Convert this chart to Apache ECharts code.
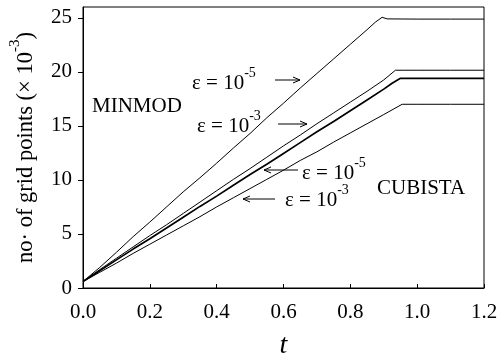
<!DOCTYPE html>
<html><head><meta charset="utf-8">
<script src="https://cdn.jsdelivr.net/npm/echarts@6/dist/echarts.min.js"></script>
<style>html,body{margin:0;padding:0;background:#fff}#c{width:497px;height:356px}</style>
</head><body><div id="c"></div>
<script>
const FONT = "'Liberation Serif','Times New Roman',serif";

// x ticks / y ticks
const xTickValues = [0, 0.2, 0.4, 0.6, 0.8, 1.0, 1.2];
const yTickValues = [0, 5, 10, 15, 20, 25];

// MINMOD, eps = 1e-5
const tMinmod5 = [0,0.05,0.1,0.15,0.2,0.25,0.3,0.35,0.4,0.45,0.5,0.55,0.6,0.65,0.7,0.75,0.8,0.85,0.875,0.895,0.91,1.0,1.1,1.2];
const vMinmod5 = [0.6,1.9,3.3,4.75,6.1,7.5,8.9,10.2,11.55,12.95,14.3,15.75,17.1,18.5,19.85,21.2,22.55,23.9,24.6,25.05,24.9,24.88,24.88,24.88];
// MINMOD, eps = 1e-3
const tMinmod3 = [0,0.05,0.1,0.15,0.2,0.25,0.3,0.35,0.4,0.45,0.5,0.55,0.6,0.65,0.7,0.75,0.8,0.85,0.9,0.935,0.96,1.0,1.1,1.2];
const vMinmod3 = [0.6,1.7,2.75,3.8,4.85,5.85,6.9,7.95,9.0,10.05,11.05,12.1,13.15,14.15,15.2,16.2,17.2,18.2,19.25,20.15,20.15,20.15,20.15,20.15];
// CUBISTA, eps = 1e-5 (thick)
const tCubista5 = [0,0.05,0.1,0.15,0.2,0.25,0.3,0.35,0.4,0.45,0.5,0.55,0.6,0.65,0.7,0.75,0.8,0.85,0.9,0.925,0.95,1.0,1.1,1.2];
const vCubista5 = [0.6,1.6,2.6,3.6,4.55,5.55,6.55,7.55,8.5,9.5,10.5,11.45,12.45,13.45,14.45,15.4,16.4,17.4,18.4,18.95,19.4,19.4,19.4,19.4];
// CUBISTA, eps = 1e-3
const tCubista3 = [0,0.05,0.1,0.15,0.2,0.25,0.3,0.35,0.4,0.45,0.5,0.55,0.6,0.65,0.7,0.75,0.8,0.85,0.9,0.955,1.0,1.1,1.2];
const vCubista3 = [0.6,1.45,2.3,3.2,4.05,4.9,5.75,6.6,7.5,8.35,9.2,10.05,10.9,11.8,12.6,13.5,14.35,15.2,16.05,17.0,17.0,17.0,17.0];

function pairs(t, v) { return t.map((x, i) => [x, v[i]]); }

const rich = {
  n: { fontFamily: FONT, fontSize: 21, lineHeight: 28, verticalAlign: 'bottom', color: '#000' },
  s: { fontFamily: FONT, fontSize: 14, lineHeight: 10, verticalAlign: 'top', color: '#000' }
};
const richName = {
  n: { fontFamily: FONT, fontSize: 22.5, lineHeight: 30, verticalAlign: 'bottom', color: '#000' },
  s: { fontFamily: FONT, fontSize: 15, lineHeight: 11, verticalAlign: 'top', color: '#000' }
};

function lineSeries(name, data, width) {
  return {
    name, type: 'line', data, showSymbol: false, symbol: 'none', smooth: false,
    lineStyle: { color: '#000', width: width }, silent: true, animation: false
  };
}

function label(x, y, text) {
  return { type: 'text', x, y, silent: true, style: { text, rich, align: 'left', verticalAlign: 'middle', fill: '#000', font: '21px ' + FONT } };
}
function arrow(x1, x2, y) {
  const dir = x2 > x1 ? 1 : -1;
  return { type: 'group', silent: true, children: [
    { type: 'line', shape: { x1, y1: y, x2, y2: y }, style: { stroke: '#000', lineWidth: 1 } },
    { type: 'polyline', shape: { points: [[x2 - dir * 7, y - 3], [x2, y], [x2 - dir * 7, y + 3]] }, style: { stroke: '#000', lineWidth: 1, fill: null } }
  ]};
}

const chart = echarts.init(document.getElementById('c'), null, { renderer: 'canvas' });
chart.setOption({
  animation: false,
  backgroundColor: '#fff',
  grid: { left: 83, right: 13, top: 7, bottom: 68, containLabel: false, outerBoundsMode: 'none', show: true, borderColor: '#000', borderWidth: 1, backgroundColor: 'transparent' },
  xAxis: {
    type: 'value', min: 0, max: 1.2, interval: 0.2,
    name: 't', nameLocation: 'middle', nameGap: 44,
    nameTextStyle: { fontFamily: FONT, fontSize: 28, fontStyle: 'italic', color: '#000' },
    axisLine: { show: true, lineStyle: { color: '#000', width: 1 } },
    axisTick: { show: true, inside: true, length: 4, lineStyle: { color: '#000' } },
    axisLabel: { fontFamily: FONT, fontSize: 21, color: '#000', margin: 14, formatter: v => v.toFixed(1) },
    splitLine: { show: false }
  },
  yAxis: {
    type: 'value', min: 0, max: 26, interval: 5,
    name: '{n|no· of grid points (× 10}{s|-3}{n|)}', nameLocation: 'middle', nameGap: 45, nameRotate: 90,
    nameTextStyle: { fontFamily: FONT, fontSize: 22.5, color: '#000', rich: richName },
    axisLine: { show: true, lineStyle: { color: '#000', width: 1 } },
    axisTick: { show: true, inside: false, length: 5, lineStyle: { color: '#000' }, customValues: yTickValues },
    axisLabel: { fontFamily: FONT, fontSize: 21, color: '#000', margin: 11, customValues: yTickValues },
    splitLine: { show: false }
  },
  series: [
    lineSeries('MINMOD 1e-5', pairs(tMinmod5, vMinmod5), 1),
    lineSeries('MINMOD 1e-3', pairs(tMinmod3, vMinmod3), 1),
    lineSeries('CUBISTA 1e-5', pairs(tCubista5, vCubista5), 1.7),
    lineSeries('CUBISTA 1e-3', pairs(tCubista3, vCubista3), 1)
  ],
  graphic: [
    label(92, 103, '{n|MINMOD}'),
    label(377, 185, '{n|CUBISTA}'),
    label(192, 80, '{n|ε = 10}{s|-5}'),
    label(197, 123, '{n|ε = 10}{s|-3}'),
    label(302, 170, '{n|ε = 10}{s|-5}'),
    label(285, 197, '{n|ε = 10}{s|-3}'),
    arrow(275, 300, 80),
    arrow(278, 307, 124),
    arrow(298, 264, 170),
    arrow(275, 243, 199)
  ]
});
</script></body></html>
